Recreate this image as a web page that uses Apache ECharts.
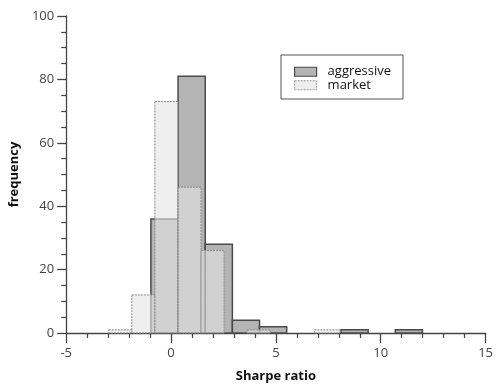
<!DOCTYPE html>
<html><head><meta charset="utf-8">
<script src="https://cdn.jsdelivr.net/npm/echarts@6/dist/echarts.min.js"></script>
<style>html,body{margin:0;padding:0;background:#fff}#c{width:496px;height:388px}</style>
</head><body><div id="c"></div>
<script>
const aggressiveEdges = [-0.96, 0.335, 1.63, 2.925, 4.22, 5.515, 6.81, 8.105, 9.40, 10.695, 11.99];
const aggressiveCounts = [36, 81, 28, 4, 2, 0, 0, 1, 0, 1];
const marketEdges = [-2.97, -1.87, -0.77, 0.33, 1.43, 2.53, 3.63, 4.73, 5.78, 6.84, 8.05];
const marketCounts = [1, 12, 73, 46, 26, 0, 1, 0, 0, 1];
const xTicks = [-5, 0, 5, 10, 15];
const yTicks = [0, 20, 40, 60, 80, 100];

function bins(edges, counts) {
  const out = [];
  for (let i = 0; i < counts.length; i++) out.push([edges[i], edges[i + 1], counts[i]]);
  return out;
}
function makeRender(style) {
  return function (params, api) {
    const x0 = api.value(0), x1 = api.value(1), y = api.value(2);
    if (!y) return null;
    const p0 = api.coord([x0, y]);
    const p1 = api.coord([x1, 0]);
    return {
      type: 'rect',
      shape: { x: p0[0], y: p0[1], width: p1[0] - p0[0], height: p1[1] - p0[1] },
      style: style
    };
  };
}
const aggStyle = { fill: '#b4b4b4', stroke: '#4a4a4a', lineWidth: 1.5 };
const mktStyle = { fill: 'rgba(228,228,228,0.6)', stroke: '#8a8a8a', lineWidth: 1, lineDash: [2, 1] };
const font = '"Open Sans", sans-serif';
const chart = echarts.init(document.getElementById('c'));
chart.setOption({
  animation: false,
  backgroundColor: '#fff',
  grid: { left: 62, right: 9.5, top: 16, bottom: 54.5 },
  legend: {
    orient: 'vertical',
    left: 281, top: 55,
    padding: [10, 12, 7, 13],
    itemGap: 0,
    itemWidth: 22, itemHeight: 9,
    borderColor: '#555', borderWidth: 1,
    textStyle: { fontFamily: font, fontSize: 13, color: '#111', lineHeight: 13.5, padding: [0, 0, 0, 6] },
    data: [
      { name: 'aggressive', icon: 'rect', itemStyle: { color: '#b4b4b4', borderColor: '#4a4a4a', borderWidth: 1.2 } },
      { name: 'market', icon: 'rect', itemStyle: { color: '#eeeeee', borderColor: '#999', borderWidth: 1, borderType: [2, 1] } }
    ]
  },
  xAxis: {
    type: 'value', min: xTicks[0], max: xTicks[xTicks.length - 1], interval: 5,
    name: 'Sharpe ratio', nameLocation: 'middle', nameGap: 37,
    nameTextStyle: { fontFamily: font, fontSize: 13, fontWeight: 'bold', color: '#111' },
    axisLine: { onZero: false, lineStyle: { color: '#444', width: 1.3 } },
    axisTick: { show: true, inside: false, length: 10, lineStyle: { color: '#444', width: 1.3 } },
    minorTick: { show: true, splitNumber: 5, length: 5, lineStyle: { color: '#444', width: 1.2 } },
    axisLabel: { fontFamily: font, fontSize: 13, color: '#444', margin: 14 },
    splitLine: { show: false }
  },
  yAxis: {
    type: 'value', min: yTicks[0], max: yTicks[yTicks.length - 1], interval: 20,
    name: 'frequency', nameLocation: 'middle', nameGap: 44,
    nameTextStyle: { fontFamily: font, fontSize: 13, fontWeight: 'bold', color: '#111' },
    axisLine: { show: true, onZero: false, lineStyle: { color: '#444', width: 1.3 } },
    axisTick: { show: true, inside: false, length: 9, lineStyle: { color: '#444', width: 1.3 } },
    minorTick: { show: true, splitNumber: 4, length: 5, lineStyle: { color: '#444', width: 1.2 } },
    axisLabel: { fontFamily: font, fontSize: 13, color: '#444', margin: 12 },
    splitLine: { show: false }
  },
  series: [
    {
      name: 'aggressive', type: 'custom', renderItem: makeRender(aggStyle),
      itemStyle: { color: '#b4b4b4' },
      encode: { x: [0, 1], y: 2 },
      data: bins(aggressiveEdges, aggressiveCounts), z: 2
    },
    {
      name: 'market', type: 'custom', renderItem: makeRender(mktStyle),
      itemStyle: { color: '#eeeeee' },
      encode: { x: [0, 1], y: 2 },
      data: bins(marketEdges, marketCounts), z: 3
    }
  ]
});
</script>
</body></html>
